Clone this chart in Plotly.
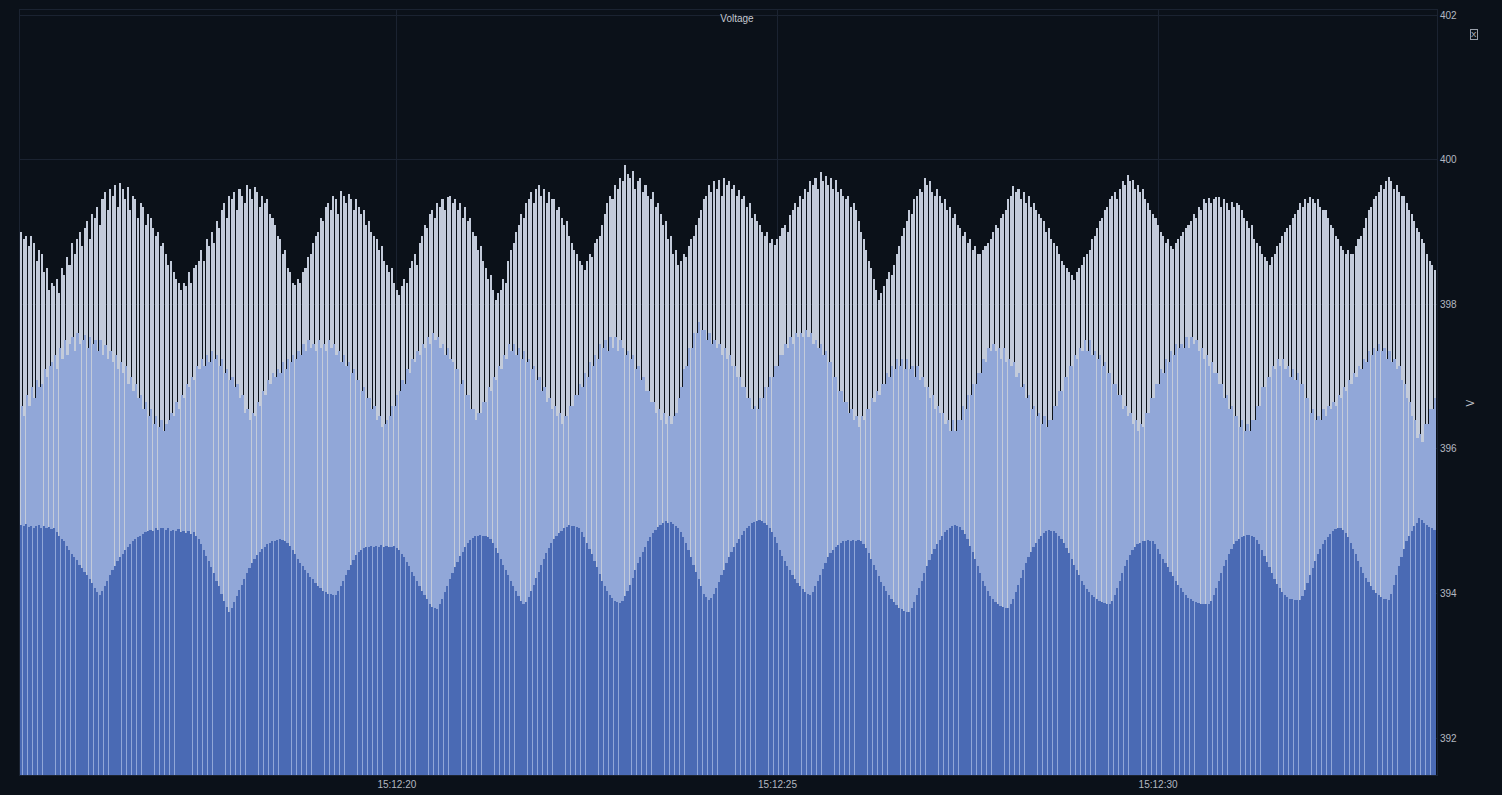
import pandas as pd
import plotly.graph_objects as go

# ---------------- data ----------------
START_TIME = "2024-01-01 15:12:15.066"
SAMPLE_MS = 1000.0 / 30.0
X_RANGE = ["2024-01-01 15:12:15.049", "2024-01-01 15:12:33.664"]
X_TICKS = ["2024-01-01 15:12:20", "2024-01-01 15:12:25", "2024-01-01 15:12:30"]
X_TICK_TEXT = ["15:12:20", "15:12:25", "15:12:30"]
Y_TICKS = [392, 394, 396, 398, 400, 402]
Y_RANGE = [391.49, 402.07]
TITLE = "Voltage"
UNIT = "V"

phase_1 = [
    399.0, 398.9, 398.95, 398.8, 398.95, 398.85, 398.6, 398.75, 398.7, 398.45,
    398.5, 398.2, 398.3, 398.25, 398.35, 398.15, 398.5, 398.4, 398.65, 398.55,
    398.85, 398.7, 398.9, 399.0, 398.8, 399.05, 399.15, 398.9, 399.25, 399.2,
    399.35, 399.1, 399.45, 399.55, 399.3, 399.6, 399.5, 399.65, 399.35, 399.68,
    399.6, 399.45, 399.62, 399.3, 399.5, 399.45, 399.2, 399.4, 399.35, 399.1,
    399.25, 399.2, 399.05, 398.95, 399.0, 398.8, 398.85, 398.7, 398.55, 398.6,
    398.45, 398.35, 398.3, 398.2, 398.3, 398.25, 398.45, 398.3, 398.5, 398.55,
    398.6, 398.75, 398.6, 398.9, 398.8, 399.0, 398.85, 399.15, 399.05, 399.3,
    399.4, 399.2, 399.5, 399.45, 399.55, 399.3, 399.6, 399.5, 399.4, 399.65,
    399.6, 399.45, 399.62, 399.55, 399.35, 399.5, 399.4, 399.45, 399.25, 399.2,
    399.1, 398.95, 398.9, 398.7, 398.75, 398.5, 398.45, 398.3, 398.27, 398.35,
    398.3, 398.45, 398.5, 398.65, 398.7, 398.85, 398.95, 399.0, 399.2, 399.15,
    399.35, 399.4, 399.3, 399.5, 399.45, 399.25, 399.56, 399.5, 399.4, 399.52,
    399.45, 399.3, 399.45, 399.35, 399.25, 399.3, 399.1, 399.15, 399.0, 398.95,
    398.9, 398.75, 398.8, 398.6, 398.55, 398.45, 398.5, 398.3, 398.2, 398.13,
    398.25, 398.35, 398.3, 398.5, 398.6, 398.7, 398.55, 398.85, 398.95, 399.1,
    399.05, 399.25, 399.3, 399.2, 399.4, 399.35, 399.45, 399.3, 399.48, 399.5,
    399.4, 399.45, 399.3, 399.4, 399.2, 399.35, 399.15, 399.2, 399.0, 398.95,
    398.75, 398.8, 398.6, 398.5, 398.35, 398.4, 398.2, 398.06, 398.15, 398.2,
    398.35, 398.3, 398.6, 398.75, 398.85, 399.0, 399.1, 399.25, 399.2, 399.4,
    399.45, 399.55, 399.4, 399.6, 399.65, 399.5, 399.6, 399.4, 399.55, 399.45,
    399.45, 399.3, 399.35, 399.2, 399.1, 399.15, 398.95, 398.85, 398.75, 398.7,
    398.6, 398.55, 398.48, 398.6, 398.7, 398.65, 398.85, 398.9, 398.95, 399.1,
    399.25, 399.4, 399.5, 399.45, 399.65, 399.6, 399.75, 399.7, 399.93, 399.8,
    399.75, 399.85, 399.6, 399.7, 399.75, 399.55, 399.65, 399.5, 399.45, 399.55,
    399.35, 399.4, 399.25, 399.1, 399.15, 398.9, 398.95, 398.7, 398.75, 398.55,
    398.6, 398.7, 398.65, 398.8, 398.9, 398.95, 399.1, 399.2, 399.3, 399.45,
    399.5, 399.65, 399.55, 399.7, 399.6, 399.72, 399.5, 399.75, 399.65, 399.7,
    399.6, 399.65, 399.5, 399.58, 399.45, 399.5, 399.35, 399.4, 399.2, 399.25,
    399.15, 399.1, 399.0, 398.95, 399.0, 398.85, 398.9, 398.82, 398.9, 398.95,
    399.05, 399.1, 399.0, 399.23, 399.3, 399.4, 399.35, 399.5, 399.45, 399.6,
    399.55, 399.7, 399.65, 399.75, 399.6, 399.83, 399.7, 399.78, 399.65, 399.75,
    399.6, 399.72, 399.55, 399.6, 399.5, 399.45, 399.5, 399.35, 399.4, 399.3,
    399.15, 399.0, 398.9, 398.75, 398.6, 398.5, 398.35, 398.2, 398.06, 398.15,
    398.25, 398.35, 398.45, 398.4, 398.55, 398.7, 398.8, 398.95, 399.05, 399.15,
    399.3, 399.25, 399.45, 399.5, 399.6, 399.55, 399.75, 399.65, 399.7, 399.55,
    399.5, 399.6, 399.5, 399.4, 399.45, 399.3, 399.35, 399.2, 399.25, 399.1,
    399.05, 398.95, 399.0, 398.85, 398.9, 398.75, 398.8, 398.7, 398.69, 398.75,
    398.8, 398.85, 398.9, 399.0, 399.1, 399.05, 399.2, 399.25, 399.3, 399.45,
    399.5, 399.64, 399.55, 399.6, 399.45, 399.55, 399.4, 399.5, 399.35, 399.4,
    399.3, 399.25, 399.2, 399.15, 399.0, 399.05, 398.9, 398.85, 398.8, 398.7,
    398.6, 398.55, 398.5, 398.45, 398.4, 398.34, 398.45, 398.5, 398.55, 398.65,
    398.7, 398.75, 398.9, 398.95, 399.05, 399.15, 399.2, 399.3, 399.35, 399.45,
    399.5, 399.55, 399.45, 399.6, 399.7, 399.65, 399.79, 399.7, 399.72, 399.6,
    399.65, 399.55, 399.6, 399.45, 399.4, 399.3, 399.25, 399.2, 399.1, 399.0,
    398.95, 398.85, 398.9, 398.8, 398.76, 398.85, 398.9, 398.95, 399.0, 399.05,
    399.1, 399.15, 399.25, 399.2, 399.35, 399.3, 399.45, 399.4, 399.47, 399.4,
    399.45, 399.48, 399.49, 399.35, 399.45, 399.4, 399.3, 399.42, 399.35, 399.4,
    399.38, 399.3, 399.2, 399.15, 399.05, 399.1, 398.9, 398.85, 398.8, 398.7,
    398.65, 398.6, 398.55, 398.65, 398.7, 398.8, 398.85, 398.95, 399.0, 399.05,
    399.1, 399.2, 399.25, 399.3, 399.4, 399.35, 399.45, 399.4, 399.49, 399.45,
    399.4, 399.45, 399.35, 399.3, 399.3, 399.2, 399.1, 399.05, 398.95, 398.9,
    398.8, 398.75, 398.7, 398.75, 398.7, 398.69, 398.8, 398.9, 398.95, 399.05,
    399.2, 399.3, 399.35, 399.45, 399.5, 399.55, 399.65, 399.6, 399.7, 399.76,
    399.7, 399.6, 399.65, 399.55, 399.5, 399.5, 399.4, 399.3, 399.25, 399.15,
    399.05, 399.0, 398.9, 398.85, 398.7, 398.6, 398.55, 398.48,
]

phase_2 = [
    396.6, 396.45, 396.75, 396.6, 396.85, 396.7, 396.95, 396.85, 396.9, 397.1,
    397.0, 397.15, 397.2, 397.3, 397.1, 397.4, 397.25, 397.5, 397.3, 397.45,
    397.55, 397.35, 397.6, 397.45, 397.5, 397.58, 397.4, 397.55, 397.45, 397.5,
    397.35, 397.5, 397.3, 397.44, 397.25, 397.35, 397.2, 397.3, 397.1, 397.2,
    397.05, 397.15, 396.9, 397.0, 396.8, 396.9, 396.7, 396.75, 396.55, 396.65,
    396.45, 396.55, 396.35, 396.45, 396.3, 396.4, 396.25, 396.35, 396.4, 396.5,
    396.45, 396.65, 396.55, 396.75, 396.7, 396.9, 396.85, 397.0, 396.95, 397.15,
    397.1, 397.25, 397.15, 397.3, 397.2, 397.35, 397.25, 397.3, 397.15, 397.25,
    397.05, 397.1, 396.95, 397.0, 396.85, 396.9, 396.7, 396.75, 396.5, 396.55,
    396.4, 396.5, 396.45, 396.65, 396.6, 396.8, 396.75, 396.95, 396.9, 397.05,
    397.0, 397.1, 397.05, 397.2, 397.1, 397.25, 397.2, 397.3, 397.25, 397.35,
    397.3, 397.45, 397.35, 397.5, 397.4, 397.45, 397.35, 397.5, 397.4, 397.45,
    397.35, 397.5, 397.4, 397.45, 397.3, 397.35, 397.2, 397.3, 397.15, 397.2,
    397.05, 397.1, 396.95, 396.95, 396.8, 396.85, 396.7, 396.7, 396.55, 396.6,
    396.4, 396.45, 396.3, 396.35, 396.4, 396.45, 396.6, 396.6, 396.75, 396.8,
    396.95, 396.9, 397.1, 397.05, 397.25, 397.2, 397.35, 397.3, 397.45, 397.4,
    397.55, 397.45, 397.6, 397.5, 397.55, 397.4, 397.45, 397.3, 397.4, 397.25,
    397.2, 397.1, 397.1, 396.9, 396.95, 396.75, 396.75, 396.55, 396.55, 396.4,
    396.5, 396.5, 396.65, 396.65, 396.85, 396.8, 397.0, 396.95, 397.15, 397.1,
    397.3, 397.25, 397.45, 397.35, 397.45, 397.3, 397.4, 397.25, 397.35, 397.2,
    397.25, 397.1, 397.15, 396.95, 397.0, 396.8, 396.85, 396.65, 396.7, 396.55,
    396.6, 396.45, 396.5, 396.35, 396.45, 396.45, 396.6, 396.6, 396.75, 396.75,
    396.9, 396.85, 397.05, 397.0, 397.2, 397.15, 397.3, 397.25, 397.45, 397.4,
    397.5, 397.35, 397.55, 397.4, 397.55, 397.35, 397.5, 397.4, 397.3, 397.35,
    397.25, 397.3, 397.1, 397.15, 396.95, 397.0, 396.8, 396.8, 396.65, 396.65,
    396.5, 396.55, 396.4, 396.5, 396.35, 396.45, 396.35, 396.45, 396.5, 396.7,
    396.85, 397.1, 397.15, 397.4, 397.4, 397.6, 397.6, 397.75, 397.65, 397.65,
    397.5, 397.6, 397.45, 397.5, 397.4, 397.45, 397.3, 397.4, 397.25, 397.3,
    397.15, 397.15, 397.0, 397.0, 396.85, 396.85, 396.7, 396.7, 396.55, 396.6,
    396.55, 396.7, 396.7, 396.85, 396.85, 397.0, 397.0, 397.15, 397.15, 397.3,
    397.3, 397.45, 397.4, 397.55, 397.45, 397.6, 397.55, 397.6, 397.55, 397.65,
    397.55, 397.6, 397.45, 397.5, 397.4, 397.45, 397.3, 397.35, 397.2, 397.2,
    397.0, 397.0, 396.8, 396.8, 396.65, 396.65, 396.5, 396.55, 396.4, 396.45,
    396.3, 396.45, 396.4, 396.55, 396.55, 396.7, 396.65, 396.8, 396.75, 396.9,
    396.9, 397.05, 397.0, 397.15, 397.1, 397.25, 397.15, 397.25, 397.1, 397.25,
    397.1, 397.15, 397.0, 397.15, 396.95, 397.0, 396.85, 396.85, 396.7, 396.75,
    396.55, 396.6, 396.5, 396.5, 396.35, 396.4, 396.25, 396.4, 396.25, 396.4,
    396.4, 396.6, 396.55, 396.75, 396.75, 396.9, 396.9, 397.05, 397.05, 397.25,
    397.2, 397.4, 397.35, 397.45, 397.35, 397.4, 397.25, 397.4, 397.2, 397.25,
    397.15, 397.2, 397.0, 397.05, 396.85, 396.9, 396.7, 396.75, 396.55, 396.6,
    396.45, 396.5, 396.35, 396.45, 396.3, 396.4, 396.4, 396.6, 396.6, 396.8,
    396.8, 397.0, 397.0, 397.15, 397.15, 397.3, 397.25, 397.4, 397.35, 397.5,
    397.35, 397.5, 397.3, 397.35, 397.25, 397.3, 397.15, 397.2, 397.05, 397.05,
    396.9, 396.9, 396.75, 396.75, 396.55, 396.6, 396.45, 396.5, 396.35, 396.4,
    396.25, 396.35, 396.3, 396.5, 396.5, 396.7, 396.7, 396.9, 396.9, 397.1,
    397.05, 397.25, 397.2, 397.35, 397.3, 397.45, 397.4, 397.45, 397.4, 397.55,
    397.4, 397.55, 397.45, 397.5, 397.35, 397.4, 397.25, 397.3, 397.15, 397.2,
    397.05, 397.05, 396.9, 396.9, 396.7, 396.75, 396.55, 396.6, 396.45, 396.45,
    396.3, 396.4, 396.25, 396.35, 396.25, 396.4, 396.4, 396.6, 396.6, 396.85,
    396.85, 397.0, 397.0, 397.15, 397.1, 397.25, 397.15, 397.25, 397.1, 397.15,
    397.0, 397.1, 396.95, 397.05, 396.9, 396.9, 396.7, 396.7, 396.5, 396.55,
    396.4, 396.45, 396.4, 396.55, 396.45, 396.6, 396.55, 396.65, 396.6, 396.75,
    396.7, 396.85, 396.8, 396.95, 396.9, 397.05, 397.0, 397.15, 397.1, 397.25,
    397.2, 397.35, 397.3, 397.4, 397.35, 397.45, 397.35, 397.4, 397.25, 397.35,
    397.2, 397.25, 397.1, 397.15, 396.95, 396.9, 396.7, 396.65, 396.45, 396.4,
    396.15, 396.2, 396.1, 396.35, 396.35, 396.55, 396.55, 396.7,
]

phase_3 = [
    394.95, 394.93, 394.96, 394.92, 394.94, 394.9, 394.93, 394.95, 394.91, 394.93,
    394.9, 394.92, 394.89, 394.91, 394.85, 394.8, 394.76, 394.72, 394.66, 394.6,
    394.55, 394.5, 394.46, 394.4, 394.35, 394.3, 394.25, 394.2, 394.14, 394.08,
    394.02, 393.98, 394.03, 394.1, 394.18, 394.25, 394.32, 394.38, 394.45, 394.5,
    394.55, 394.6, 394.64, 394.68, 394.72, 394.75, 394.78, 394.8, 394.83, 394.85,
    394.86, 394.88, 394.87, 394.9, 394.88, 394.9, 394.91, 394.88, 394.9, 394.87,
    394.88, 394.86, 394.89, 394.85, 394.87, 394.84, 394.86, 394.83, 394.85, 394.8,
    394.75, 394.68, 394.6, 394.52, 394.45, 394.36, 394.28, 394.18, 394.1, 394.0,
    393.9, 393.82, 393.75, 393.8, 393.88, 393.96, 394.05, 394.12, 394.2, 394.28,
    394.35, 394.42, 394.48, 394.53, 394.58, 394.62, 394.65, 394.68, 394.7, 394.72,
    394.73, 394.74, 394.75, 394.74, 394.73, 394.7, 394.66, 394.6, 394.54, 394.48,
    394.42, 394.38, 394.33, 394.28, 394.23, 394.2, 394.15, 394.1, 394.07, 394.03,
    394.02, 394.0, 393.99, 393.98, 393.98, 394.03, 394.1, 394.17, 394.25, 394.32,
    394.4, 394.47, 394.53, 394.58, 394.6, 394.63, 394.64, 394.65, 394.66, 394.65,
    394.66, 394.65, 394.67, 394.64, 394.66, 394.65, 394.64, 394.66, 394.63, 394.6,
    394.55, 394.5, 394.43, 394.38, 394.3, 394.24, 394.18, 394.1, 394.04, 393.98,
    393.92, 393.86, 393.82, 393.8, 393.78, 393.85, 393.93, 394.02, 394.1, 394.2,
    394.28, 394.36, 394.44, 394.52, 394.58, 394.64, 394.7, 394.74, 394.77, 394.79,
    394.8, 394.81, 394.8, 394.79, 394.78, 394.75, 394.7, 394.63, 394.56, 394.48,
    394.4, 394.32, 394.25, 394.18, 394.1, 394.03, 393.96, 393.9, 393.85, 393.88,
    393.95, 394.03, 394.12, 394.22, 394.3, 394.4, 394.48, 394.56, 394.63, 394.7,
    394.75, 394.8, 394.84, 394.87, 394.9, 394.92, 394.95, 394.93, 394.94, 394.92,
    394.9, 394.85, 394.78, 394.7, 394.62, 394.54, 394.45, 394.36, 394.27, 394.18,
    394.1, 394.03, 393.98, 393.94, 393.9, 393.88, 393.87, 393.9, 393.96, 394.04,
    394.12, 394.22, 394.32, 394.42, 394.5, 394.58, 394.65, 394.72, 394.78, 394.84,
    394.88, 394.92, 394.95, 394.97, 395.0, 394.98, 394.99, 394.96, 394.94, 394.9,
    394.85, 394.78, 394.7, 394.6, 394.5, 394.4, 394.3, 394.2, 394.1, 394.0,
    393.95, 393.91, 393.94, 394.0, 394.08, 394.16, 394.25, 394.33, 394.42, 394.5,
    394.57, 394.64, 394.7, 394.76, 394.81, 394.86, 394.9, 394.94, 394.97, 394.99,
    395.0, 395.02, 395.0, 394.98, 394.95, 394.9, 394.85, 394.78, 394.7, 394.6,
    394.52, 394.45, 394.38, 394.32, 394.26, 394.2, 394.15, 394.1, 394.06, 394.02,
    394.0, 393.98, 394.02, 394.1, 394.18, 394.26, 394.34, 394.42, 394.5, 394.56,
    394.6, 394.64, 394.67, 394.7, 394.72, 394.73, 394.74, 394.73, 394.74, 394.72,
    394.74, 394.72, 394.68, 394.63, 394.56, 394.48, 394.4, 394.32, 394.24, 394.16,
    394.1, 394.04, 393.98, 393.93, 393.88, 393.84, 393.8, 393.78, 393.76, 393.75,
    393.75, 393.8, 393.88, 393.98, 394.08, 394.18, 394.28, 394.38, 394.46, 394.55,
    394.62, 394.68, 394.74, 394.8, 394.85, 394.88, 394.91, 394.93, 394.95, 394.94,
    394.92, 394.88, 394.82, 394.75, 394.66, 394.57, 394.48, 394.38, 394.28, 394.18,
    394.1, 394.03, 393.97, 393.92, 393.88, 393.85, 393.83, 393.82, 393.8, 393.8,
    393.85, 393.93, 394.02, 394.12, 394.22, 394.32, 394.42, 394.5, 394.58, 394.64,
    394.7, 394.75, 394.8, 394.84, 394.86, 394.88, 394.87, 394.86, 394.84, 394.8,
    394.75, 394.7, 394.63, 394.56, 394.48, 394.4, 394.32, 394.25, 394.18, 394.12,
    394.06, 394.02, 393.98, 393.95, 393.92, 393.9, 393.88, 393.87, 393.86, 393.85,
    393.9, 393.98, 394.08, 394.18, 394.28, 394.38, 394.46, 394.53, 394.6, 394.65,
    394.68, 394.7, 394.72, 394.73, 394.74, 394.73, 394.72, 394.68, 394.62, 394.55,
    394.48, 394.42, 394.36, 394.3, 394.24, 394.18, 394.12, 394.07, 394.02, 393.98,
    393.94, 393.92, 393.9, 393.88, 393.87, 393.86, 393.85, 393.85, 393.85, 393.9,
    393.98, 394.08, 394.18, 394.28, 394.38, 394.46, 394.54, 394.62, 394.68, 394.73,
    394.76, 394.78, 394.8, 394.81, 394.81, 394.8, 394.78, 394.74, 394.68, 394.6,
    394.52, 394.44, 394.36, 394.28, 394.2, 394.13, 394.07, 394.02, 393.98, 393.95,
    393.93, 393.92, 393.91, 393.91, 393.91, 393.96, 394.05, 394.15, 394.25, 394.35,
    394.45, 394.54, 394.62, 394.68, 394.74, 394.78, 394.82, 394.86, 394.89, 394.91,
    394.9, 394.88, 394.84, 394.78, 394.7, 394.62, 394.54, 394.45, 394.37, 394.29,
    394.22, 394.16, 394.1, 394.05, 394.01, 393.98, 393.95, 393.93, 393.92, 393.91,
    394.0, 394.12, 394.25, 394.38, 394.5, 394.62, 394.72, 394.8, 394.87, 394.93,
    394.98, 395.05, 395.02, 394.98, 394.95, 394.92, 394.9, 394.88,
]

# name, values, colour, bar width and bar offset (fractions of one sample step)
series = [
    ("L1", phase_1, "#c3cbda", 0.80, -0.40),
    ("L2", phase_2, "#91a7d8", 0.90, -0.25),
    ("L3", phase_3, "#4a6ab4", 0.85, -0.50),
]

# ---------------- figure ----------------
BG = "#0b1119"
GRID = "#1b2331"
TXT = "#b3b8c1"

# the page body has an 8px margin: plot area spans x 20..1437, y 10..775 of the window
FIG_W, FIG_H = 1494, 787

fig = go.Figure()
for name, vals, color, frac, off in series:
    times = pd.date_range(pd.Timestamp(START_TIME), periods=len(vals),
                          freq=pd.Timedelta(milliseconds=SAMPLE_MS))
    fig.add_trace(go.Bar(
        x=times,
        y=[v - Y_RANGE[0] for v in vals],
        base=Y_RANGE[0],
        name=name,
        customdata=vals,
        hovertemplate="%{customdata:.2f} V<extra>" + name + "</extra>",
        marker=dict(color=color, line=dict(width=0)),
        width=SAMPLE_MS * frac,
        offset=SAMPLE_MS * off,
    ))

fig.update_layout(
    width=FIG_W, height=FIG_H,
    margin=dict(l=12, r=65, t=2, b=20),
    paper_bgcolor=BG, plot_bgcolor=BG,
    barmode="overlay", bargap=0,
    showlegend=False,
    font=dict(family="Liberation Sans, Arial, sans-serif", size=10, color=TXT),
    title=dict(text=TITLE, x=(737 - 8) / FIG_W, xref="container", xanchor="center",
               y=1 - (18 - 8) / FIG_H, yref="container", yanchor="middle",
               font=dict(size=10, color="#c4c8d0")),
    xaxis=dict(
        type="date", range=X_RANGE,
        tickvals=X_TICKS, ticktext=X_TICK_TEXT,
        showgrid=True, gridcolor=GRID, gridwidth=1,
        zeroline=False, ticks="", ticklen=0,
        showline=True, linecolor=GRID, mirror=True,
        tickfont=dict(size=10, color=TXT),
    ),
    yaxis=dict(
        side="right", range=Y_RANGE,
        tickvals=Y_TICKS,
        showgrid=True, gridcolor=GRID, gridwidth=1,
        zeroline=False, ticks="", ticklen=0,
        showline=True, linecolor=GRID, mirror=True,
        tickfont=dict(size=10, color=TXT),
    ),
    annotations=[
        dict(text=UNIT, xref="paper", yref="paper",
             x=(1478 - 20) / 1417, y=(775 - 403) / 765,
             showarrow=False, textangle=-90,
             font=dict(size=10, color="#c4c8d0")),
        dict(text="X", xref="paper", yref="paper",
             x=(1478 - 20) / 1417, y=(775 - 29) / 765,
             showarrow=False, bordercolor="#9aa0aa", borderwidth=1, borderpad=0,
             font=dict(size=8, color="#c4c8d0")),
    ],
)

fig.write_html("out.html",
               post_script="document.body.style.backgroundColor='#0b1119';")
